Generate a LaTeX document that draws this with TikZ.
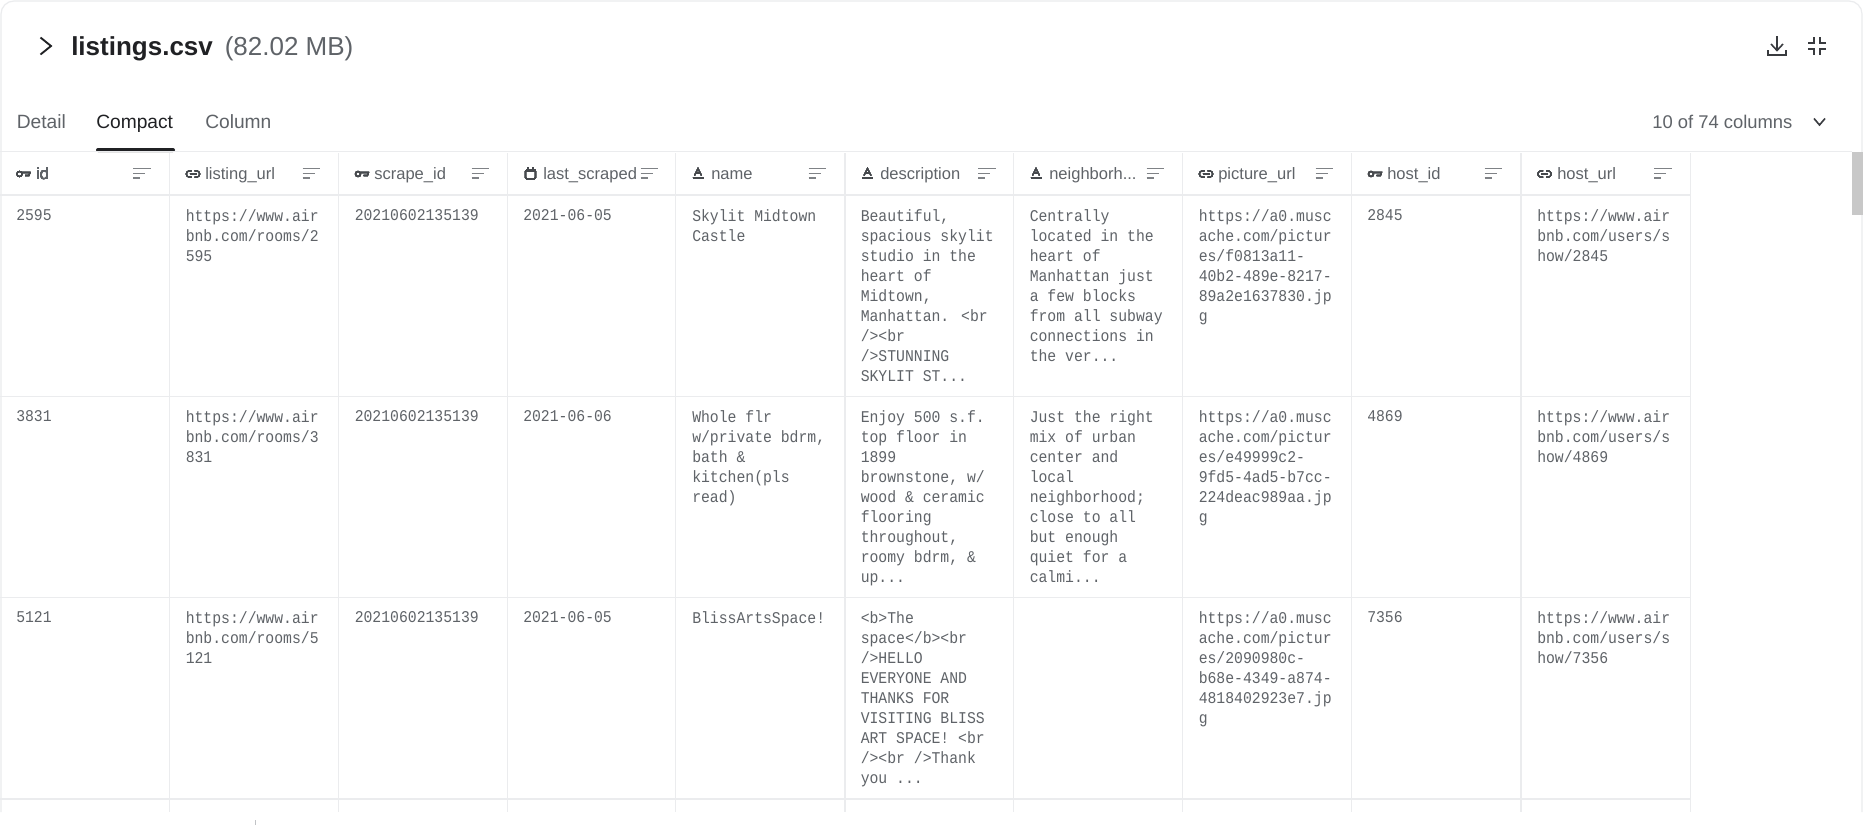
\documentclass[tikz,border=0pt]{standalone}
\usepackage{fontspec}
\setmainfont{Liberation Sans}
\newfontfamily\cellfont[FakeStretch=0.9]{Liberation Mono}
\definecolor{gridcol}{HTML}{EBECEE}
\definecolor{inkcol}{HTML}{202124}
\definecolor{softcol}{HTML}{5F6368}
\definecolor{barcol}{HTML}{C8C8C8}
\tikzset{
	gridline/.style={gridcol, line width=0.9pt},
	cell/.style={anchor=north west, inner sep=0pt, align=left, text=softcol, font=\cellfont\fontsize{12.3pt}{15pt}\selectfont},
	head/.style={anchor=base west, inner sep=0pt, text=softcol, font=\fontsize{12.4pt}{15pt}\selectfont},
	tablabel/.style={anchor=base west, inner sep=0pt, text=softcol, font=\fontsize{14.4pt}{17pt}\selectfont},
	iconline/.style={softcol!60!inkcol, line width=0.8pt},
}
% header icons, #1 is the left edge of the column
\newcommand{\sorticon}[1]{
	\draw[softcol!80, line width=1.2pt] (#1+133,168.5) -- ++(17.5,0) (#1+133,173.5) -- ++(12,0) (#1+133,178) -- ++(7,0);
}
\newcommand{\keyicon}[1]{
	\draw[iconline] (#1+19.5,174) circle (2.6);
	\draw[iconline] (#1+22,172.5) -- (#1+30,172.5) -- (#1+29,175.5) -- (#1+25,175.5);
}
\newcommand{\linkicon}[1]{
	\draw[iconline] (#1+22,170.8) -- (#1+20,170.8) arc (270:90:3.2) -- (#1+22,177.2);
	\draw[iconline] (#1+25,170.8) -- (#1+27,170.8) arc (-90:90:3.2) -- (#1+25,177.2);
	\draw[iconline] (#1+20,174) -- (#1+27,174);
}
\newcommand{\dateicon}[1]{
	\draw[iconline, rounded corners=1pt] (#1+18,170) rectangle (#1+28,179);
	\fill[softcol!60!inkcol] (#1+18,169) rectangle (#1+28,172);
	\draw[iconline] (#1+20.5,167) -- (#1+20.5,169) (#1+25.5,167) -- (#1+25.5,169);
}
\newcommand{\texticon}[1]{
	\draw[iconline] (#1+19,175.5) -- (#1+22.5,168.5) -- (#1+26,175.5) (#1+20.5,173) -- (#1+24.5,173);
	\draw[softcol!60!inkcol, line width=1.2pt] (#1+17,178) -- (#1+28,178);
}
\begin{document}
\begin{tikzpicture}[x=0.75pt, y=-0.75pt]
	\useasboundingbox (0,0) rectangle (1863,825);
	\fill[white] (0,0) rectangle (1863,825);
	% card outline
	\draw[gridline] (1,812) -- (1,14) arc (180:270:13) -- (1849,1) arc (270:360:13) -- (1862,812);
	% title bar
	\draw[inkcol, line width=1.4pt] (40.5,37.5) -- (51,46) -- (40.5,54.5);
	\node[anchor=base west, inner sep=0pt, text=inkcol, font=\fontsize{19.5pt}{22pt}\selectfont\bfseries] (title) at (71,55) {listings.csv};
	\node[anchor=base west, inner sep=0pt, text=softcol, font=\fontsize{19.5pt}{22pt}\selectfont] (size) at (224.5,55) {(82.02 MB)};
	\draw[softcol!40!inkcol, line width=1.2pt] (1777,36) -- (1777,50) (1771,44) -- (1777,50.5) -- (1783,44);
	\draw[softcol!40!inkcol, line width=1.5pt] (1768,50) -- (1768,55) -- (1786,55) -- (1786,50);
	\draw[softcol!40!inkcol, line width=1.2pt] (1808,43) -- (1814,43) -- (1814,37) (1826,43) -- (1820,43) -- (1820,37) (1808,49) -- (1814,49) -- (1814,55) (1826,49) -- (1820,49) -- (1820,55);
	% tabs
	\node[tablabel] (detail) at (16.5,128) {Detail};
	\node[tablabel, text=inkcol] (compact) at (96,128) {Compact};
	\node[tablabel] (column) at (205,128) {Column};
	\fill[inkcol, rounded corners=1.5pt] (96,152) -- (96,148) -- (175,148) -- (175,152) -- cycle;
	\node[tablabel, font=\fontsize{13.8pt}{17pt}\selectfont] (count) at (1652,128) {10 of 74 columns};
	\draw[softcol!40!inkcol, line width=1.2pt] (1814,118.5) -- (1819.5,125) -- (1825,118.5);
	% table grid
	\draw[gridline] (0,151.5) -- (1852,151.5);
	\foreach \rowy in {195,396.7,597.5,799}
		\draw[gridline] (0,\rowy) -- (1690.5,\rowy);
	\foreach \colx in {169.5,338.5,507.5,675.5,845,1013.5,1182.5,1351.5,1521,1690.5}
		\draw[gridline] (\colx,153) -- (\colx,812);
	\fill[barcol] (1852,152) rectangle (1863,215);
	\draw[gridcol!70!softcol, line width=0.7pt] (255,820) -- (255,825);
	% column heads
	\foreach \colx in {0,169.5,338.5,507.5,675.5,845,1013.5,1182.5,1351.5,1521}
		\sorticon{\colx}
	\keyicon{0} \linkicon{169.5} \keyicon{338.5} \dateicon{507.5} \texticon{675.5} \texticon{845} \texticon{1013.5} \linkicon{1182.5} \keyicon{1351.5} \linkicon{1521}
	\node[head] (hid) at (36,179) {id};
	\node[head] (hlisting) at (205,179) {listing\_url};
	\node[head] (hscrape) at (374,179) {scrape\_id};
	\node[head] (hlast) at (543,179) {last\_scraped};
	\node[head] (hname) at (711,179) {name};
	\node[head] (hdesc) at (880,179) {description};
	\node[head] (hneigh) at (1049,179) {neighborh...};
	\node[head] (hpicture) at (1218,179) {picture\_url};
	\node[head] (hhost) at (1387,179) {host\_id};
	\node[head] (hhosturl) at (1557,179) {host\_url};
	% first row
	\node[cell] (ida) at (16,209.7) {2595};
	\node[cell] (urla) at (185.5,209.7) {https://www.air\\bnb.com/rooms/2\\595};
	\node[cell] (scrapea) at (354.5,209.7) {20210602135139};
	\node[cell] (lasta) at (523,209.7) {2021-06-05};
	\node[cell] (namea) at (692,209.7) {Skylit Midtown\\Castle};
	\node[cell] (desca) at (860.5,209.7) {Beautiful,\\spacious skylit\\studio in the\\heart of\\Midtown,\\Manhattan. <br\\/><br\\/>STUNNING\\SKYLIT ST...};
	\node[cell] (neigha) at (1029.5,209.7) {Centrally\\located in the\\heart of\\Manhattan just\\a few blocks\\from all subway\\connections in\\the ver...};
	\node[cell] (pica) at (1198.5,209.7) {https://a0.musc\\ache.com/pictur\\es/f0813a11-\\40b2-489e-8217-\\89a2e1637830.jp\\g};
	\node[cell] (hosta) at (1367,209.7) {2845};
	\node[cell] (hurla) at (1537,209.7) {https://www.air\\bnb.com/users/s\\how/2845};
	% second row
	\node[cell] (idb) at (16,410.7) {3831};
	\node[cell] (urlb) at (185.5,410.7) {https://www.air\\bnb.com/rooms/3\\831};
	\node[cell] (scrapeb) at (354.5,410.7) {20210602135139};
	\node[cell] (lastb) at (523,410.7) {2021-06-06};
	\node[cell] (nameb) at (692,410.7) {Whole flr\\w/private bdrm,\\bath \&\\kitchen(pls\\read)};
	\node[cell] (descb) at (860.5,410.7) {Enjoy 500 s.f.\\top floor in\\1899\\brownstone, w/\\wood \& ceramic\\flooring\\throughout,\\roomy bdrm, \&\\up...};
	\node[cell] (neighb) at (1029.5,410.7) {Just the right\\mix of urban\\center and\\local\\neighborhood;\\close to all\\but enough\\quiet for a\\calmi...};
	\node[cell] (picb) at (1198.5,410.7) {https://a0.musc\\ache.com/pictur\\es/e49999c2-\\9fd5-4ad5-b7cc-\\224deac989aa.jp\\g};
	\node[cell] (hostb) at (1367,410.7) {4869};
	\node[cell] (hurlb) at (1537,410.7) {https://www.air\\bnb.com/users/s\\how/4869};
	% third row
	\node[cell] (idc) at (16,611.7) {5121};
	\node[cell] (urlc) at (185.5,611.7) {https://www.air\\bnb.com/rooms/5\\121};
	\node[cell] (scrapec) at (354.5,611.7) {20210602135139};
	\node[cell] (lastc) at (523,611.7) {2021-06-05};
	\node[cell] (namec) at (692,611.7) {BlissArtsSpace!};
	\node[cell] (descc) at (860.5,611.7) {<b>The\\space</b><br\\/>HELLO\\EVERYONE AND\\THANKS FOR\\VISITING BLISS\\ART SPACE! <br\\/><br />Thank\\you ...};
	\node[cell] (picc) at (1198.5,611.7) {https://a0.musc\\ache.com/pictur\\es/2090980c-\\b68e-4349-a874-\\4818402923e7.jp\\g};
	\node[cell] (hostc) at (1367,611.7) {7356};
	\node[cell] (hurlc) at (1537,611.7) {https://www.air\\bnb.com/users/s\\how/7356};
\end{tikzpicture}
\end{document}
